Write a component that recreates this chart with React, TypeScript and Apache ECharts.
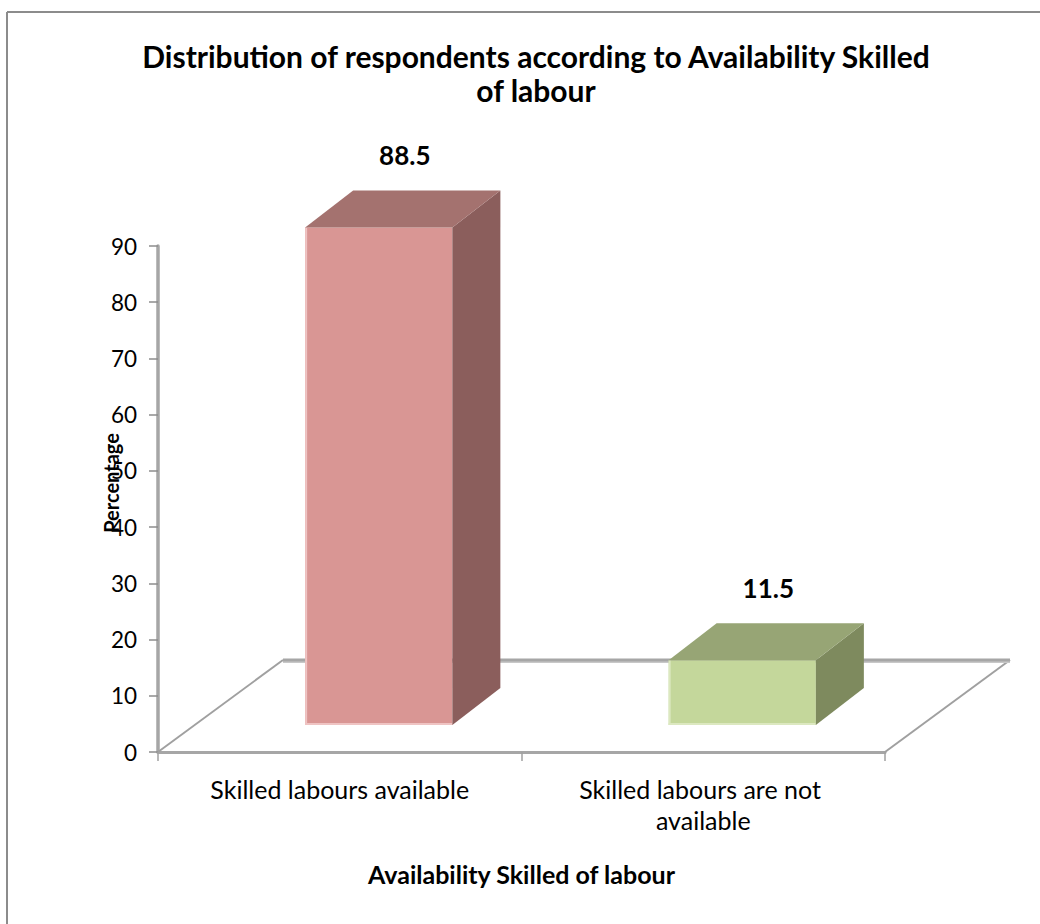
import React, { useEffect, useRef } from "react";
import * as echarts from "echarts";

const categories = ["Skilled labours available", "Skilled labours are not available"];
const values = [88.5, 11.5];
const yTicks = { min: 0, max: 90, interval: 10 };
const titleText = "Distribution of respondents according to Availability Skilled\nof labour";
const xAxisTitle = "Availability Skilled of labour";
const yAxisTitle = "Percentage";

const FONT = "Lato, 'Noto Sans', sans-serif";
const faceColors = [
  { front: "#D99694", top: "#A4726F", side: "#8B5E5C", edge: "#EFC4C3" },
  { front: "#C4D79B", top: "#97A575", side: "#7E8A5E", edge: "#DCE8C0" },
];

// 3D geometry (pixels)
const BAR_SHIFT_X = 39;
const BAR_SHIFT_Y = -27;
const DEPTH_X = 48;
const DEPTH_Y = -37;
const FLOOR_DX = 125;
const FLOOR_DY = -92;

export default function App() {
  const ref = useRef<HTMLDivElement>(null);
  useEffect(() => {
    if (!ref.current) return;
    const chart = echarts.init(ref.current, null, { renderer: "svg" });
    const barData = values.map((v, i) => [i, v]);
    chart.setOption({
      animation: false,
      backgroundColor: "#ffffff",
      title: {
        text: titleText,
        left: 531,
        top: 34,
        textAlign: "center",
        textStyle: { fontFamily: FONT, fontSize: 30, fontWeight: "bold", color: "#000", lineHeight: 34 },
      },
      grid: { left: 158, top: 246, width: 727, height: 506, containLabel: false },
      xAxis: {
        type: "category",
        data: categories,
        boundaryGap: true,
        axisLine: { show: true, lineStyle: { color: "#A6A6A6", width: 3 } },
        axisTick: { show: true, length: 9, lineStyle: { color: "#A0A0A0", width: 1.5 } },
        axisLabel: {
          interval: 0,
          hideOverlap: false,
          fontFamily: FONT,
          fontSize: 25,
          color: "#000",
          margin: 21,
          lineHeight: 31,
          width: 300,
          overflow: "break",
        },
        name: xAxisTitle,
        nameLocation: "middle",
        nameGap: 122,
        nameTextStyle: { fontFamily: FONT, fontSize: 25, fontWeight: "bold", color: "#000", verticalAlign: "middle" },
      },
      yAxis: {
        type: "value",
        min: yTicks.min,
        max: yTicks.max,
        interval: yTicks.interval,
        axisLine: { show: true, lineStyle: { color: "#A6A6A6", width: 3.5 } },
        axisTick: { show: true, length: 9, lineStyle: { color: "#8C8C8C", width: 1.5 } },
        axisLabel: { fontFamily: FONT, fontSize: 22.5, color: "#000", margin: 21 },
        splitLine: { show: false },
      },
      graphic: [
        { type: "line", shape: { x1: 7, y1: 12, x2: 1040, y2: 12 }, style: { stroke: "#8C8C8C", lineWidth: 2 } },
        { type: "line", shape: { x1: 7, y1: 12, x2: 7, y2: 924 }, style: { stroke: "#8C8C8C", lineWidth: 2 } },
        {
          type: "text",
          x: 111,
          y: 483,
          rotation: Math.PI / 2,
          style: {
            text: yAxisTitle,
            fontFamily: FONT,
            fontSize: 20,
            fontWeight: "bold",
            fill: "#000",
            align: "center",
            verticalAlign: "middle",
          },
          z: 10,
        },
      ],
      series: [
        {
          type: "custom",
          name: "floor",
          data: [[0, 0]],
          z: 1,
          silent: true,
          renderItem: (params: any, api: any) => {
            const cs = params.coordSys;
            const x0 = cs.x;
            const x1 = cs.x + cs.width;
            const y0 = cs.y + cs.height;
            const stroke = { stroke: "#A0A0A0", lineWidth: 2 };
            return {
              type: "group",
              children: [
                { type: "line", shape: { x1: x0, y1: y0, x2: x0 + FLOOR_DX, y2: y0 + FLOOR_DY }, style: stroke },
                { type: "line", shape: { x1: x1, y1: y0, x2: x1 + FLOOR_DX, y2: y0 + FLOOR_DY }, style: stroke },
                {
                  type: "line",
                  shape: { x1: x0 + FLOOR_DX, y1: y0 + FLOOR_DY + 2, x2: x1 + FLOOR_DX, y2: y0 + FLOOR_DY + 2 },
                  style: { stroke: "#C8C8C8", lineWidth: 2 },
                },
                {
                  type: "line",
                  shape: { x1: x0 + FLOOR_DX, y1: y0 + FLOOR_DY, x2: x1 + FLOOR_DX, y2: y0 + FLOOR_DY },
                  style: { stroke: "#A6A6A6", lineWidth: 3 },
                },
              ],
            };
          },
        },
        {
          type: "custom",
          name: "bars",
          data: barData,
          z: 3,
          renderItem: (params: any, api: any) => {
            const i = api.value(0);
            const v = api.value(1);
            const base = api.coord([i, 0]);
            const topP = api.coord([i, v]);
            const bw = api.size([1, 0])[0] * 0.405;
            const cx = base[0] + BAR_SHIFT_X;
            const l = cx - bw / 2;
            const r = cx + bw / 2;
            const b = base[1] + BAR_SHIFT_Y;
            const t = topP[1] + BAR_SHIFT_Y;
            const c = faceColors[params.dataIndex % faceColors.length];
            return {
              type: "group",
              children: [
                { type: "rect", shape: { x: l, y: t, width: bw, height: b - t }, style: { fill: c.front } },
                { type: "rect", shape: { x: l, y: t, width: 2, height: b - t }, style: { fill: c.edge } },
                { type: "rect", shape: { x: l, y: b - 2, width: bw, height: 2 }, style: { fill: c.edge } },
                {
                  type: "polygon",
                  shape: { points: [[r, b], [r + DEPTH_X, b + DEPTH_Y], [r + DEPTH_X, t + DEPTH_Y], [r, t]] },
                  style: { fill: c.side },
                },
                {
                  type: "polygon",
                  shape: { points: [[l, t], [l + DEPTH_X, t + DEPTH_Y], [r + DEPTH_X, t + DEPTH_Y], [r, t]] },
                  style: { fill: c.top },
                },
                {
                  type: "text",
                  x: cx + 26,
                  y: t - 72,
                  style: {
                    text: String(v),
                    fontFamily: FONT,
                    fontSize: 26,
                    fontWeight: "bold",
                    fill: "#000",
                    align: "center",
                    verticalAlign: "middle",
                  },
                },
              ],
            };
          },
        },
      ],
    });
    return () => chart.dispose();
  }, []);
  return <div ref={ref} style={{ position: "fixed", left: 0, top: 0, width: 1040, height: 924 }} />;
}
